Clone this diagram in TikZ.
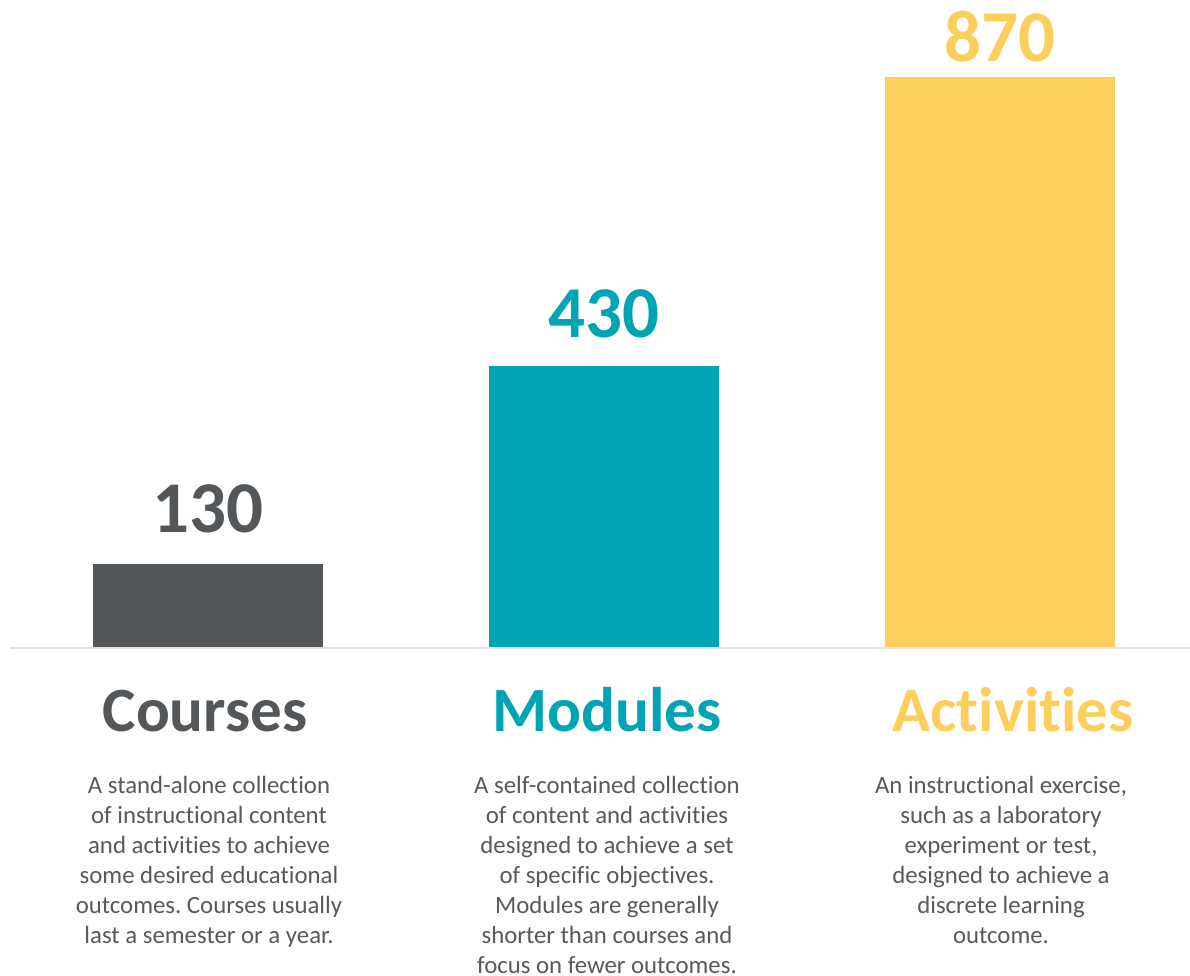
\documentclass[tikz,border=0pt]{standalone}
\usepackage{fontspec}
\setmainfont[Ligatures={NoCommon}]{Carlito}
\newcommand\nti{t\kern0pt i}
\definecolor{cgray}{HTML}{53575A}
\definecolor{cteal}{HTML}{00A5B5}
\definecolor{cyell}{HTML}{FCCF5D}
\definecolor{ctext}{HTML}{595959}
\definecolor{cline}{HTML}{E3E3E3}
\frenchspacing
\tikzset{
  bar/.style={fill=#1, draw=none},
  num/.style={anchor=base, inner sep=0pt, text=#1, font=\fontsize{73}{80}\selectfont\bfseries},
  head/.style={anchor=base, inner sep=0pt, text=#1, font=\fontsize{63}{70}\selectfont\bfseries},
  desc/.style={anchor=north, inner sep=0pt, align=center, text=ctext, font=\fontsize{24.8}{30}\selectfont}
}
\begin{document}
\begin{tikzpicture}[x=1pt,y=1pt]
\useasboundingbox (0,0) rectangle (1190,976);
\fill[white] (0,0) rectangle (1190,976);
% bars
\path[bar=cgray] (93,329) rectangle (323,412);
\path[bar=cteal] (489,329) rectangle (719,610);
\path[bar=cyell] (885,329) rectangle (1115,899);
% baseline
\coordinate (bl) at (10,328);
\coordinate (br) at (1190,328);
\draw[cline, line width=2pt] (bl) -- (br);
% numbers
\node[num=cgray] (n1) at (208,443) {130};
\node[num=cteal] (n2) at (604,638) {430};
\node[num=cyell] (n3) at (1000,914) {870};
% headings
\node[head=cgray] (h1) at (205,244) {Courses};
\node[head=cteal] (h2) at (607,244) {Modules};
\node[head=cyell] (h3) at (1013,244) {Ac\nti vi\nti es};
% descriptions
\node[desc] (d1) at (209,200) {A stand-alone collection\\of instruc\nti onal content\\and ac\nti vi\nti es to achieve\\some desired educa\nti onal\\outcomes. Courses usually\\last a semester or a year.};
\node[desc] (d2) at (607,200) {A self-contained collection\\of content and ac\nti vi\nti es\\designed to achieve a set\\of specific objec\nti ves.\\Modules are generally\\shorter than courses and\\focus on fewer outcomes.};
\node[desc] (d3) at (1001,200) {An instruc\nti onal exercise,\\such as a laboratory\\experiment or test,\\designed to achieve a\\discrete learning\\outcome.};
\end{tikzpicture}
\end{document}
